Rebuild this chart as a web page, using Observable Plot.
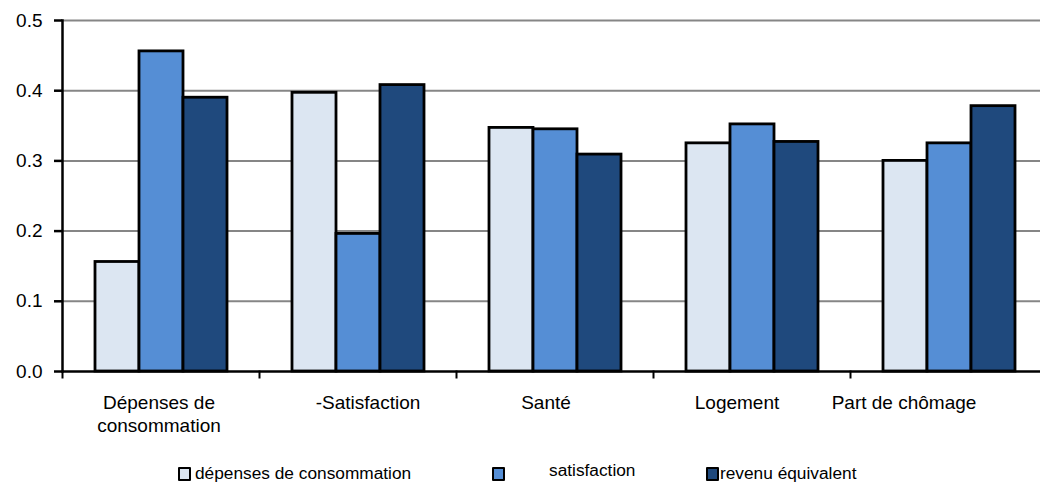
<!DOCTYPE html>
<html>
<head>
<meta charset="utf-8">
<script src="https://cdn.jsdelivr.net/npm/d3@7"></script>
<script src="https://cdn.jsdelivr.net/npm/@observablehq/plot@0.6"></script>
<style>
  html, body { margin: 0; padding: 0; background: #fff; overflow: hidden; }
  #wrap { position: relative; width: 1040px; height: 485px; overflow: hidden; font-family: "Liberation Sans", Arial, sans-serif; }
  #chart svg { display: block; max-width: none !important; }
  .lg-sw { position: absolute; width: 9px; height: 10px; border: 2px solid #000; border-radius: 1px; }
  .lg-tx { position: absolute; font-size: 17.3px; color: #000; line-height: 1; white-space: nowrap; }
</style>
</head>
<body>
<div id="wrap">
  <div id="chart"></div>
  <div id="legend"></div>
</div>
<script>
const categories = ["Dépenses de\nconsommation", "-Satisfaction", "Santé", "Logement", "Part de chômage"];
const series = ["dépenses de consommation", "satisfaction", "revenu équivalent"];
const depenses = [0.156, 0.397, 0.347, 0.325, 0.300];
const satisfaction = [0.456, 0.196, 0.345, 0.352, 0.325];
const revenu = [0.390, 0.408, 0.309, 0.327, 0.378];
const yTicks = [0, 0.1, 0.2, 0.3, 0.4, 0.5];
const colors = ["#dce6f2", "#558ed5", "#1f497d"];

const values = [depenses, satisfaction, revenu];
const data = [];
categories.forEach((c, i) => {
  series.forEach((s, j) => data.push({category: c, series: s, value: values[j][i]}));
});

// small horizontal nudges of category labels (as in the original layout)
const labelShift = [-2, 10, -9, -15, -45];

const plot = Plot.plot({
  width: 1049,
  height: 445,
  marginLeft: 60,
  marginRight: 0,
  marginTop: 20,
  marginBottom: 74,
  style: {fontFamily: "'Liberation Sans', Arial, sans-serif", background: "#fff", color: "#000", maxWidth: "none"},
  fx: {domain: categories, paddingInner: 0, paddingOuter: 0, axis: null, label: null},
  x: {domain: series, paddingInner: 0, paddingOuter: 0.72, axis: null, label: null},
  y: {domain: [0, 0.5], label: null, axis: null},
  color: {domain: series, range: colors},
  marks: [
    Plot.gridY(yTicks.filter(d => d > 0), {stroke: "#868686", strokeOpacity: 1, strokeWidth: 2}),
    Plot.barY(data, {fx: "category", x: "series", y: "value", fill: "series", stroke: "#000", strokeWidth: 2.8}),
    Plot.ruleY([0], {stroke: "#000", strokeWidth: 2.5}),
    Plot.frame({anchor: "left", facetAnchor: "left", stroke: "#000", strokeWidth: 2.5}),
    Plot.frame({anchor: "left", insetTop: 351, insetBottom: -6, stroke: "#000", strokeWidth: 2}),
    Plot.axisY(yTicks, {
      tickSize: 8, tickPadding: 12, tickFormat: d3.format(".1f"),
      fontSize: 19, stroke: "#000", strokeWidth: 2.5, fill: "#000", label: null
    }),
    ...categories.map((c, i) => Plot.text([c], {
      fx: d => d, text: d => d, frameAnchor: "bottom", dy: 21, dx: labelShift[i],
      lineAnchor: "top", lineHeight: 1.21, fontSize: 19, fill: "#000"
    }))
  ]
});
document.getElementById("chart").appendChild(plot);

// legend below the chart
const legend = document.getElementById("legend");
const legendPos = [
  {sw: 178, tx: 195, top: 465},
  {sw: 492, tx: 549, top: 462},
  {sw: 706, tx: 720, top: 465}
];
series.forEach((s, i) => {
  const sw = document.createElement("div");
  sw.className = "lg-sw";
  sw.style.left = legendPos[i].sw + "px";
  sw.style.top = "467px";
  sw.style.background = colors[i];
  legend.appendChild(sw);
  const tx = document.createElement("div");
  tx.className = "lg-tx";
  tx.style.left = legendPos[i].tx + "px";
  tx.style.top = legendPos[i].top + "px";
  tx.textContent = s;
  legend.appendChild(tx);
});
</script>
</body>
</html>
